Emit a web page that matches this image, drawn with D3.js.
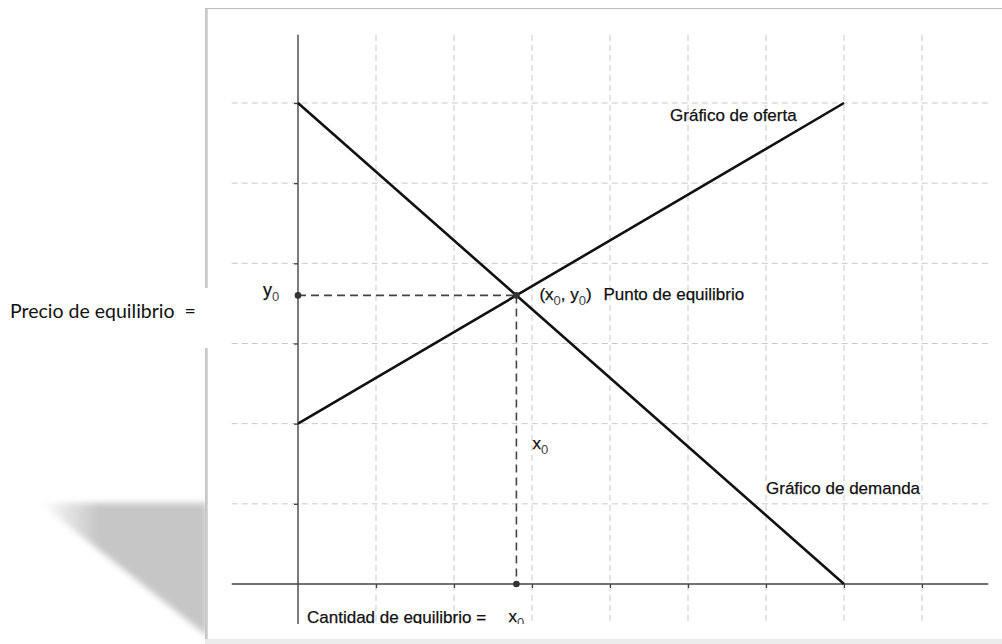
<!DOCTYPE html>
<html>
<head>
<meta charset="utf-8">
<script src="https://cdn.jsdelivr.net/npm/d3@7"></script>
<style>
  body { margin: 0; background: #fff; }
  svg { display: block; }
</style>
</head>
<body>
<div id="chart"></div>
<script>
// values, in grid units
const xTicks = [1, 2, 3, 4, 5, 6, 7, 8];
const yTicks = [1, 2, 3, 4, 5, 6];
const supply = [[0, 2], [7, 6]];
const demand = [[0, 6], [7, 0]];
const equilibrium = [2.8, 3.6];

const supplyName = "Gráfico de oferta";
const demandName = "Gráfico de demanda";
const pointName = "Punto de equilibrio";
const priceName = "Precio de equilibrio  =";
const quantityName = "Cantidad de equilibrio =";

const width = 1002, height = 644;
const font = "Arial, 'Liberation Sans', sans-serif";

const svg = d3.select("#chart").append("svg")
  .attr("width", width)
  .attr("height", height);

const x = d3.scaleLinear().domain([0, 8]).range([298, 922]);
const y = d3.scaleLinear().domain([0, 6]).range([584, 103]);

const defs = svg.append("defs");

// soft grey page shadow bottom-left
const shade = defs.append("linearGradient").attr("id", "shade").attr("x1", 0).attr("x2", 1);
shade.append("stop").attr("offset", "0%").attr("stop-color", "#c6c6c6").attr("stop-opacity", 0);
shade.append("stop").attr("offset", "35%").attr("stop-color", "#c6c6c6").attr("stop-opacity", 1);
shade.append("stop").attr("offset", "100%").attr("stop-color", "#c6c6c6").attr("stop-opacity", 1);
defs.append("filter").attr("id", "blur")
  .attr("x", "-20%").attr("y", "-20%").attr("width", "140%").attr("height", "140%")
  .append("feGaussianBlur").attr("stdDeviation", 3);

svg.append("path")
  .attr("d", "M40,503 L207,503 L207,636 Z")
  .attr("fill", "url(#shade)")
  .attr("filter", "url(#blur)");

// picture frame
svg.append("rect")
  .attr("x", 205.5).attr("y", 8.5)
  .attr("width", 900).attr("height", 631)
  .attr("fill", "#fff")
  .attr("stroke", "#bdbdbd");
svg.append("line")
  .attr("x1", 206.5).attr("x2", 206.5).attr("y1", 9).attr("y2", 640)
  .attr("stroke", "#cacaca").attr("stroke-width", 2.5);
svg.append("rect")
  .attr("x", 205).attr("y", 639).attr("width", 797).attr("height", 5)
  .attr("fill", "#ececec");

// white text box for the price label, over the frame edge
svg.append("rect")
  .attr("x", 0).attr("y", 288).attr("width", 214).attr("height", 60)
  .attr("fill", "#fff");
svg.append("text")
  .attr("x", 10).attr("y", 318)
  .attr("font-family", "Lato, 'Open Sans', sans-serif")
  .attr("font-size", "19.5px")
  .attr("fill", "#111")
  .attr("xml:space", "preserve")
  .style("white-space", "pre")
  .text(priceName);

// the plot itself, clipped like the pasted image
defs.append("clipPath").attr("id", "plotclip")
  .append("rect").attr("x", 208).attr("y", 9).attr("width", 794).attr("height", 615);

const g = svg.append("g").attr("clip-path", "url(#plotclip)");

// dashed grid
g.selectAll("line.hgrid")
  .data(yTicks)
  .join("line")
  .attr("class", "hgrid")
  .attr("x1", x(-0.85)).attr("x2", x(8.85))
  .attr("y1", d => y(d)).attr("y2", d => y(d))
  .attr("stroke", "#c9c9c9")
  .attr("stroke-dasharray", "6,4");

g.selectAll("line.vgrid")
  .data(xTicks)
  .join("line")
  .attr("class", "vgrid")
  .attr("x1", d => x(d)).attr("x2", d => x(d))
  .attr("y1", y(6.85)).attr("y2", y(-0.5))
  .attr("stroke", "#c9c9c9")
  .attr("stroke-dasharray", "6,4");

// axes
g.append("line")
  .attr("x1", x(0)).attr("x2", x(0))
  .attr("y1", y(6.85)).attr("y2", y(-0.5))
  .attr("stroke", "#444").attr("stroke-width", 1.4);
g.append("line")
  .attr("x1", x(-0.85)).attr("x2", x(8.85))
  .attr("y1", y(0)).attr("y2", y(0))
  .attr("stroke", "#444").attr("stroke-width", 1.4);

const yAxis = g.append("g")
  .attr("transform", `translate(${x(0)},0)`)
  .call(d3.axisLeft(y).tickValues(yTicks).tickSize(4).tickFormat(""));
yAxis.select(".domain").remove();
yAxis.selectAll(".tick line").attr("stroke", "#444").attr("stroke-width", 1.3);

const xAxis = g.append("g")
  .attr("transform", `translate(0,${y(0)})`)
  .call(d3.axisBottom(x).tickValues(xTicks).tickSize(4).tickFormat(""));
xAxis.select(".domain").remove();
xAxis.selectAll(".tick line").attr("stroke", "#444").attr("stroke-width", 1.3);

const line = d3.line().x(d => x(d[0])).y(d => y(d[1]));

// equilibrium guide lines
g.selectAll("path.guide")
  .data([
    [[0, equilibrium[1]], equilibrium],
    [equilibrium, [equilibrium[0], 0]]
  ])
  .join("path")
  .attr("class", "guide")
  .attr("d", line)
  .attr("fill", "none")
  .attr("stroke", "#444")
  .attr("stroke-width", 1.6)
  .attr("stroke-dasharray", "8,5");

// supply and demand
g.selectAll("path.curve")
  .data([supply, demand])
  .join("path")
  .attr("class", "curve")
  .attr("d", line)
  .attr("fill", "none")
  .attr("stroke", "#111")
  .attr("stroke-width", 2.6);

g.selectAll("circle.pt")
  .data([[0, equilibrium[1]], [equilibrium[0], 0], equilibrium])
  .join("circle")
  .attr("class", "pt")
  .attr("cx", d => x(d[0]))
  .attr("cy", d => y(d[1]))
  .attr("r", 3.3)
  .attr("fill", "#333");

// labels
function label(px, py, parts, size) {
  const t = g.append("text")
    .attr("x", px).attr("y", py)
    .attr("font-family", font)
    .attr("font-size", (size || 17) + "px")
    .attr("fill", "#111")
    .attr("stroke", "#111")
    .attr("stroke-width", 0.25)
    .attr("xml:space", "preserve")
    .style("white-space", "pre");
  let low = false;
  parts.forEach(p => {
    const sub = typeof p !== "string";
    const s = t.append("tspan").text(sub ? p.sub : p);
    if (sub) {
      s.attr("font-size", "13px").attr("fill", "#444").attr("stroke", "none").attr("dy", low ? 0 : 5);
      low = true;
    } else if (low) {
      s.attr("dy", -5);
      low = false;
    }
  });
  return t;
}

label(x(4.77), y(5.78), [supplyName]);
label(x(6.0), y(1.12), [demandName]);
label(x(equilibrium[0]) + 23, y(equilibrium[1]) + 5, ["(x", {sub: "0"}, ", y", {sub: "0"}, ")"]);
label(x(equilibrium[0]) + 87, y(equilibrium[1]) + 5, [pointName]);
label(x(0) - 35, y(equilibrium[1]) + 1, ["y", {sub: "0"}], 18);
label(x(equilibrium[0]) + 16, y(1.68), ["x", {sub: "0"}]);
label(x(0) + 9, 623, [quantityName]);
label(x(equilibrium[0]) - 8, 622, ["x", {sub: "0"}]);
</script>
</body>
</html>
